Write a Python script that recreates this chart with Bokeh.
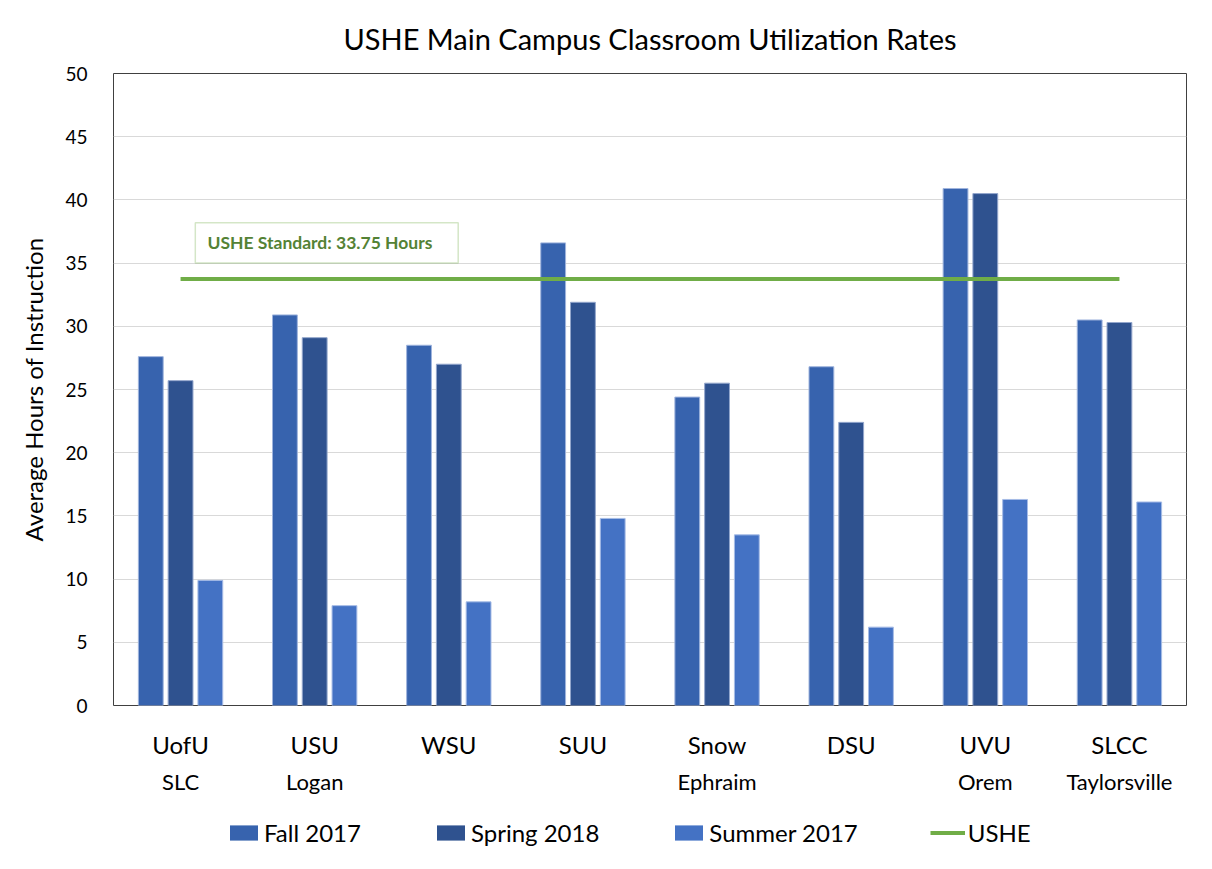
from bokeh.plotting import figure
from bokeh.layouts import column
from bokeh.models import (FactorRange, CategoricalAxis, Legend, LegendItem, Label,
                          BoxAnnotation, ColumnDataSource, SingleIntervalTicker)
from bokeh.transform import dodge
from bokeh.embed import file_html
from bokeh.resources import INLINE

schools = ["UofU", "USU", "WSU", "SUU", "Snow", "DSU", "UVU", "SLCC"]
cities = ["SLC", "Logan", " ", "  ", "Ephraim", "   ", "Orem", "Taylorsville"]
fall_2017 = [27.6, 30.9, 28.5, 36.6, 24.4, 26.8, 40.9, 30.5]
spring_2018 = [25.7, 29.1, 27.0, 31.9, 25.5, 22.4, 40.5, 30.3]
summer_2017 = [9.9, 7.9, 8.2, 14.8, 13.5, 6.2, 16.3, 16.1]
ushe_standard = 33.75
series_names = ["Fall 2017", "Spring 2018", "Summer 2017", "USHE"]

FONT = "Lato"
C_FALL = "#3763AE"
C_SPRING = "#2F528F"
C_SUMMER = "#4472C4"
C_GREEN = "#70AD47"

src = ColumnDataSource(dict(school=schools, fall=fall_2017, spring=spring_2018, summer=summer_2017))

p = figure(x_range=FactorRange(*schools), y_range=(0, 50),
           frame_width=1073, frame_height=632,
           min_border_left=113, min_border_right=10, min_border_top=73, min_border_bottom=100,
           output_backend="svg", toolbar_location=None,
           title="USHE Main Campus Classroom Utilization Rates")
p.extra_x_ranges = {"city": FactorRange(*cities)}

p.title.align = "center"
p.title.text_font = FONT
p.title.text_font_size = "29px"
p.title.text_font_style = "normal"
p.title.text_color = "#000000"
p.title.text_line_height = 0.85
p.title.standoff = 35

p.outline_line_color = "#404040"
p.outline_line_width = 1
p.xgrid.grid_line_color = None
p.ygrid.grid_line_color = "#D9D9D9"
p.ygrid.grid_line_width = 1

p.yaxis.ticker = SingleIntervalTicker(interval=5)
p.yaxis.axis_line_color = None
p.yaxis.major_tick_line_color = None
p.yaxis.minor_tick_line_color = None
p.yaxis.major_label_text_font = FONT
p.yaxis.major_label_text_font_size = "19px"
p.yaxis.major_label_text_color = "#000000"
p.yaxis.major_label_standoff = 20
p.yaxis.axis_label = "Average Hours of Instruction"
p.yaxis.axis_label_text_font = FONT
p.yaxis.axis_label_text_font_size = "24px"
p.yaxis.axis_label_text_font_style = "normal"
p.yaxis.axis_label_text_color = "#000000"
p.yaxis.axis_label_standoff = 14

p.xaxis.axis_line_color = None
p.xaxis.major_tick_line_color = None
p.xaxis.minor_tick_line_color = None
p.xaxis.major_label_text_font = FONT
p.xaxis.major_label_text_font_size = "24px"
p.xaxis.major_label_text_color = "#000000"
p.xaxis.major_label_standoff = 18

ax2 = CategoricalAxis(x_range_name="city")
ax2.axis_line_color = None
ax2.major_tick_line_color = None
ax2.minor_tick_line_color = None
ax2.major_label_text_font = FONT
ax2.major_label_text_font_size = "22px"
ax2.major_label_text_color = "#000000"
ax2.major_label_standoff = 0
p.add_layout(ax2, "below")

w = 0.185
bar_styles = [("fall", -0.222, C_FALL, "#9FB4DD"),
              ("spring", 0.0, C_SPRING, "#93A6CC"),
              ("summer", 0.222, C_SUMMER, "#A6BCE6")]
for col, off, fc, lc in bar_styles:
    p.vbar(x=dodge("school", off, range=p.x_range), top=col, width=w, source=src,
           fill_color=fc, line_color=lc, line_width=1)
p.line(x=[schools[0], schools[-1]], y=[ushe_standard, ushe_standard],
       line_color=C_GREEN, line_width=4)

box = BoxAnnotation(left=0.61, right=2.57, bottom=35.0, top=38.2,
                    fill_color="white", fill_alpha=1.0,
                    line_color=C_GREEN, line_width=1.5, level="overlay")
p.add_layout(box)
lab = Label(x=0.70, y=36.6, text=f"USHE Standard: {ushe_standard} Hours",
            text_font=FONT, text_font_size="17.5px", text_font_style="bold",
            text_color="#548235", text_baseline="middle", text_align="left", level="overlay")
p.add_layout(lab)

# legend strip below the chart (its swatches come from renderers kept outside the visible range)
lg = figure(frame_width=1073, frame_height=64, x_range=(0, 1), y_range=(0, 1),
            min_border_left=113, min_border_right=10, min_border_top=0, min_border_bottom=0,
            output_backend="svg", toolbar_location=None)
lg.axis.visible = False
lg.grid.grid_line_color = None
lg.outline_line_color = None
hidden = ColumnDataSource(dict(x=[-10.0], y=[-10.0]))
lr1 = lg.vbar(x="x", top="y", width=0.1, source=hidden, fill_color=C_FALL, line_color=None)
lr2 = lg.vbar(x="x", top="y", width=0.1, source=hidden, fill_color=C_SPRING, line_color=None)
lr3 = lg.vbar(x="x", top="y", width=0.1, source=hidden, fill_color=C_SUMMER, line_color=None)
lr4 = lg.line(x="x", y="y", source=hidden, line_color=C_GREEN, line_width=4)
legend = Legend(items=[LegendItem(label=n, renderers=[r]) for n, r in
                       zip(series_names, [lr1, lr2, lr3, lr4])],
                orientation="horizontal", location=(113, 22),
                label_text_font=FONT, label_text_font_size="24px", label_text_color="#000000",
                glyph_width=35, glyph_height=19, label_standoff=3, spacing=72,
                border_line_color=None, background_fill_alpha=0, padding=4, margin=0)
lg.add_layout(legend)

layout = column(p, lg, spacing=0)
open("out.html", "w").write(file_html(layout, INLINE))
